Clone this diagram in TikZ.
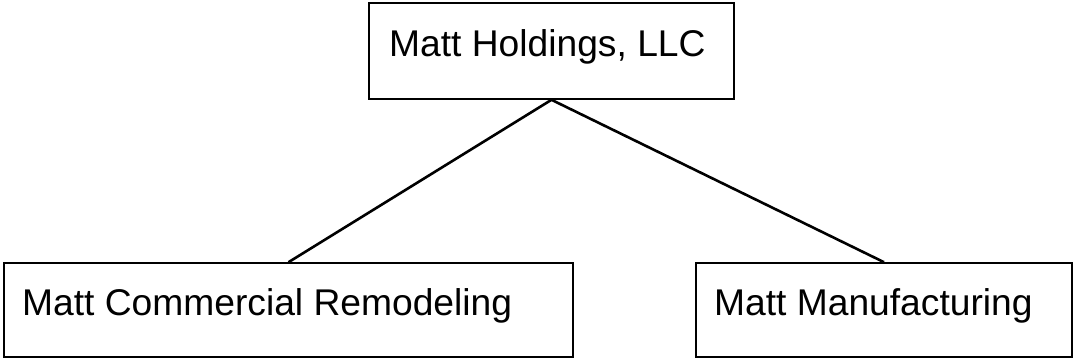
\documentclass[tikz,border=0pt]{standalone}
\usepackage{fontspec}
\setmainfont{Liberation Sans}
\begin{document}
\begin{tikzpicture}[x=1pt,y=-1pt,
  orgbox/.style={draw=black,line width=1.6pt,inner sep=0pt,fill=white},
  orglabel/.style={anchor=base west,inner sep=0pt,font=\fontsize{37.2}{41}\selectfont},
  link/.style={draw=black,line width=2.6pt}]
\useasboundingbox[fill=white] (0,0) rectangle (1074,358);
\node[orgbox,minimum width=365pt,minimum height=96pt] (top) at (551.5,51) {};
\node[orgbox,minimum width=569pt,minimum height=94pt] (left) at (288.5,310) {};
\node[orgbox,minimum width=376pt,minimum height=94pt] (right) at (884,310) {};
\node[orglabel] (ttop) at (389,57) {Matt Holdings, LLC};
\node[orglabel] (tleft) at (22,316) {Matt Commercial Remodeling};
\node[orglabel] (tright) at (714,316) {Matt Manufacturing};
\draw[link] (top.south) -- (left.north);
\draw[link] (top.south) -- (right.north);
\end{tikzpicture}
\end{document}
